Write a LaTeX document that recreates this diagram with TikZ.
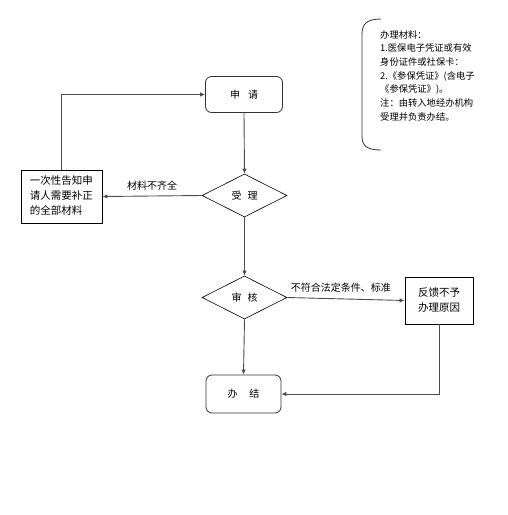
\documentclass[tikz,border=0pt]{standalone}
\usepackage{fontspec}
\setmainfont{Noto Sans CJK SC}
\usetikzlibrary{shapes.geometric,arrows.meta}
\begin{document}
\begin{tikzpicture}[x=1pt,y=-1pt,
  rbox/.style={draw=black!80,line width=0.8pt,rounded corners=6pt,minimum width=77pt,minimum height=36pt,inner sep=0pt,font=\fontsize{10}{12}\selectfont},
  dbox/.style={draw=black,line width=0.6pt,diamond,aspect=2,minimum width=85pt,minimum height=43pt,inner sep=0pt,font=\fontsize{10}{12}\selectfont},
  sbox/.style={draw=black,line width=0.8pt,inner sep=0pt,font=\fontsize{10.5}{15}\selectfont},
  conn/.style={draw=black!70,line width=0.9pt,-{Latex[length=5pt,width=4.5pt]}},
  lbl/.style={font=\fontsize{10}{12}\selectfont,inner sep=1pt}]
\useasboundingbox (0,0) rectangle (508,515);
\node[rbox] (apply) at (244,94.5) {申\hspace{0.8em}请};
\node[dbox] (accept) at (244.5,195.5) {受\hspace{0.6em}理};
\node[sbox,minimum width=81pt,minimum height=53pt] (notify) at (61.5,196.5) {\begin{tabular}{@{}l@{}}一次性告知申\\请人需要补正\\的全部材料\end{tabular}};
\node[dbox] (review) at (244.5,297.5) {审\hspace{0.6em}核};
\node[sbox,minimum width=68pt,minimum height=47pt,align=center] (feedback) at (439,300.5) {反馈不予\\办理原因};
\node[rbox,minimum width=75pt,minimum height=38pt] (done) at (243.5,394) {办\hspace{1.2em}结};
\draw[conn] (accept.west) -- node[lbl,above,pos=0.5,yshift=4pt] (lack) {材料不齐全} (notify.east);
\draw[conn] (notify.north) |- (apply.west);
\draw[conn] (apply.south) -- (accept.north);
\draw[conn] (accept.south) -- (review.north);
\draw[conn] (review.east) -- node[lbl,above,xshift=-5pt,yshift=5pt] (notok) {不符合法定条件、标准} (feedback.west);
\draw[conn] (feedback.south) |- (done.east);
\draw[conn] (review.south) -- (done.north);
\draw[draw=black!80,line width=0.8pt] (381,19) .. controls (367,19) and (362,24) .. (362,34) -- (362,136) .. controls (362,146) and (367,150) .. (381,150);
\node[anchor=north west,align=left,inner sep=0pt,font=\fontsize{9.3}{13.7}\selectfont] (materials) at (380,30) {办理材料：\\1.医保电子凭证或有效\\身份证件或社保卡：\\2.《参保凭证》(含电子\\《参保凭证》)。\\注：由转入地经办机构\\受理并负责办结。};
\end{tikzpicture}
\end{document}
